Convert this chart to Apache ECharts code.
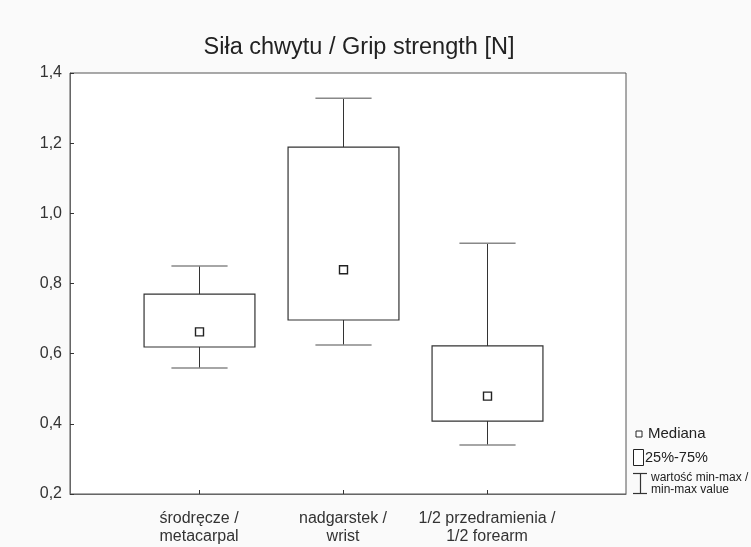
<!DOCTYPE html>
<html>
<head>
<meta charset="utf-8">
<script src="https://cdn.jsdelivr.net/npm/echarts@6/dist/echarts.min.js"></script>
<style>html,body{margin:0;padding:0;background:#fafafa;}#c{width:751px;height:547px;}</style>
</head>
<body>
<div id="c"></div>
<script>
var categories = ['środręcze /\nmetacarpal', 'nadgarstek /\nwrist', '1/2 przedramienia /\n1/2 forearm'];
var positions = [1, 2, 3];
var minValues = [0.559, 0.625, 0.340];
var q1Values = [0.619, 0.696, 0.408];
var medianValues = [0.662, 0.839, 0.479];
var q3Values = [0.770, 1.189, 0.622];
var maxValues = [0.850, 1.328, 0.915];
var yTicks = [0.2, 0.4, 0.6, 0.8, 1.0, 1.2, 1.4];

var data = positions.map(function (p, i) {
  return [p, minValues[i], q1Values[i], medianValues[i], q3Values[i], maxValues[i]];
});

var chart = echarts.init(document.getElementById('c'));
var font = 'Liberation Sans, Arial, sans-serif';

function renderItem(params, api) {
  var x = api.value(0);
  var pMin = api.coord([x, api.value(1)]);
  var pQ1 = api.coord([x, api.value(2)]);
  var pMed = api.coord([x, api.value(3)]);
  var pQ3 = api.coord([x, api.value(4)]);
  var pMax = api.coord([x, api.value(5)]);
  var bw = api.size([0.77, 0])[0];
  var cw = api.size([0.39, 0])[0];
  var cx = Math.round(pMed[0]) + 0.5;
  var ms = 8;
  return {
    type: 'group',
    children: [
      { type: 'line', shape: { x1: cx, y1: pQ3[1], x2: cx, y2: pMax[1] }, style: { stroke: '#333', lineWidth: 1 } },
      { type: 'line', shape: { x1: cx, y1: pQ1[1], x2: cx, y2: pMin[1] }, style: { stroke: '#333', lineWidth: 1 } },
      { type: 'line', shape: { x1: cx - cw / 2, y1: pMax[1], x2: cx + cw / 2, y2: pMax[1] }, style: { stroke: '#888', lineWidth: 1.5 } },
      { type: 'line', shape: { x1: cx - cw / 2, y1: pMin[1], x2: cx + cw / 2, y2: pMin[1] }, style: { stroke: '#888', lineWidth: 1.5 } },
      { type: 'rect', shape: { x: cx - bw / 2, y: pQ3[1], width: bw, height: pQ1[1] - pQ3[1] }, style: { fill: '#fff', stroke: '#333', lineWidth: 1.2 } },
      { type: 'rect', shape: { x: cx - ms / 2, y: pMed[1] - ms / 2, width: ms, height: ms }, style: { fill: '#fff', stroke: '#222', lineWidth: 1.4 } }
    ]
  };
}

chart.setOption({
  backgroundColor: '#fafafa',
  animation: false,
  title: {
    text: 'Siła chwytu / Grip strength [N]',
    left: 354, top: 31, textAlign: 'center',
    textStyle: { fontFamily: font, fontSize: 23.5, fontWeight: 'normal', color: '#222' }
  },
  grid: {
    left: 70, top: 73, width: 556, height: 421,
    show: true, backgroundColor: '#fff', borderColor: '#555', borderWidth: 1
  },
  xAxis: {
    type: 'value', min: 0.104, max: 3.965,
    splitLine: { show: false },
    axisLine: { show: true, lineStyle: { color: '#666' } },
    axisTick: { show: true, inside: true, length: 4, customValues: positions, lineStyle: { color: '#333' } },
    axisLabel: {
      customValues: positions, margin: 16, lineHeight: 18,
      fontFamily: font, fontSize: 16, color: '#333',
      formatter: function (v) { return categories[Math.round(v) - 1]; }
    }
  },
  yAxis: {
    type: 'value', min: 0.2, max: 1.4, interval: 0.2,
    splitLine: { show: false },
    axisLine: { show: true, lineStyle: { color: '#666' } },
    axisTick: { show: true, inside: true, length: 4, lineStyle: { color: '#333' } },
    axisLabel: {
      fontFamily: font, fontSize: 16, color: '#333', margin: 8,
      formatter: function (v) { return v.toFixed(1).replace('.', ','); }
    }
  },
  series: [{
    type: 'custom',
    renderItem: renderItem,
    data: data,
    encode: { x: 0, y: [1, 2, 3, 4, 5] },
    clip: false
  }],
  graphic: [
    { type: 'rect', shape: { x: 636, y: 431, width: 6, height: 6 }, style: { fill: '#fff', stroke: '#222', lineWidth: 1 } },
    { type: 'text', x: 648, y: 434, style: { text: 'Mediana', fontFamily: font, fontSize: 15, fill: '#222', verticalAlign: 'middle' } },
    { type: 'rect', shape: { x: 633.5, y: 449.5, width: 10, height: 16 }, style: { fill: '#fff', stroke: '#222', lineWidth: 1 } },
    { type: 'text', x: 645, y: 458, style: { text: '25%-75%', fontFamily: font, fontSize: 14.5, fill: '#222', verticalAlign: 'middle' } },
    { type: 'line', shape: { x1: 633, y1: 473.5, x2: 647, y2: 473.5 }, style: { stroke: '#333', lineWidth: 1.2 } },
    { type: 'line', shape: { x1: 640.5, y1: 473.5, x2: 640.5, y2: 493.5 }, style: { stroke: '#333', lineWidth: 1.2 } },
    { type: 'line', shape: { x1: 633, y1: 493.5, x2: 647, y2: 493.5 }, style: { stroke: '#333', lineWidth: 1.2 } },
    { type: 'text', x: 651, y: 478, style: { text: 'wartość min-max /', fontFamily: font, fontSize: 12, fill: '#222', verticalAlign: 'middle' } },
    { type: 'text', x: 651, y: 490, style: { text: 'min-max value', fontFamily: font, fontSize: 12, fill: '#222', verticalAlign: 'middle' } }
  ]
});
</script>
</body>
</html>
